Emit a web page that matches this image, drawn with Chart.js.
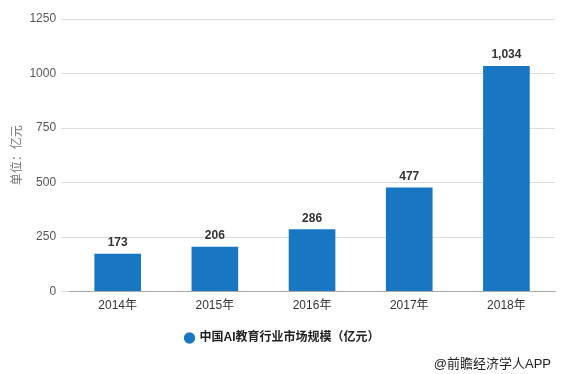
<!DOCTYPE html>
<html><head><meta charset="utf-8">
<script src="https://cdn.jsdelivr.net/npm/chart.js@4/dist/chart.umd.min.js"></script>
<style>
html,body{margin:0;padding:0;background:#fff;}
#wrap{position:relative;width:563px;height:374px;}
#src{position:absolute;right:12px;top:353px;font:13px "Liberation Sans","Noto Sans CJK SC",sans-serif;color:#222;}
</style></head>
<body>
<div id="wrap"><canvas id="c" width="563" height="374"></canvas><div id="src">@前瞻经济学人APP</div></div>
<script>
const categories = ['2014年','2015年','2016年','2017年','2018年'];
const marketSize = [173, 206, 286, 477, 1034];
const seriesName = '中国AI教育行业市场规模（亿元）';
const yTicks = [0, 250, 500, 750, 1000, 1250];
const FONT = '"Liberation Sans","Noto Sans CJK SC",sans-serif';

const labelPlugin = {
  id: 'barLabels',
  afterDatasetsDraw(chart) {
    const ctx = chart.ctx;
    const meta = chart.getDatasetMeta(0);
    ctx.save();
    ctx.font = 'bold 12px ' + FONT;
    ctx.fillStyle = '#333';
    ctx.textAlign = 'center';
    ctx.textBaseline = 'bottom';
    meta.data.forEach((bar, i) => {
      ctx.fillText(marketSize[i].toLocaleString('en-US'), bar.x, bar.y - 5);
    });
    ctx.restore();
  }
};

new Chart(document.getElementById('c'), {
  type: 'bar',
  data: {
    labels: categories,
    datasets: [{
      label: seriesName,
      data: marketSize,
      backgroundColor: '#1976c2',
      borderWidth: 0,
      barPercentage: 0.48,
      categoryPercentage: 1.0
    }]
  },
  options: {
    responsive: false,
    animation: false,
    layout: { padding: { left: 10, right: 8, top: 19, bottom: 20 } },
    plugins: {
      legend: {
        position: 'bottom',
        labels: {
          usePointStyle: true,
          pointStyle: 'circle',
          boxWidth: 8,
          boxHeight: 8,
          padding: 17,
          color: '#222',
          font: { family: FONT, size: 12, weight: 'bold' }
        }
      },
      tooltip: { enabled: false }
    },
    scales: {
      x: {
        grid: { display: false, drawTicks: true, tickLength: 5 },
        border: { color: '#aaa' },
        ticks: { color: '#333', font: { family: FONT, size: 12 }, padding: 2 }
      },
      y: {
        min: 0, max: 1250,
        afterBuildTicks(axis) { axis.ticks = yTicks.map(v => ({ value: v })); },
        grid: { color: '#dcdcdc', tickLength: 8 },
        border: { display: false },
        ticks: { color: '#555', font: { family: FONT, size: 12 }, padding: 5, callback: v => String(v) },
        title: { display: true, text: '单位：亿元', color: '#777', font: { family: FONT, size: 12 }, padding: { top: 0, bottom: 0 } }
      }
    }
  },
  plugins: [labelPlugin]
});
</script>
</body></html>
